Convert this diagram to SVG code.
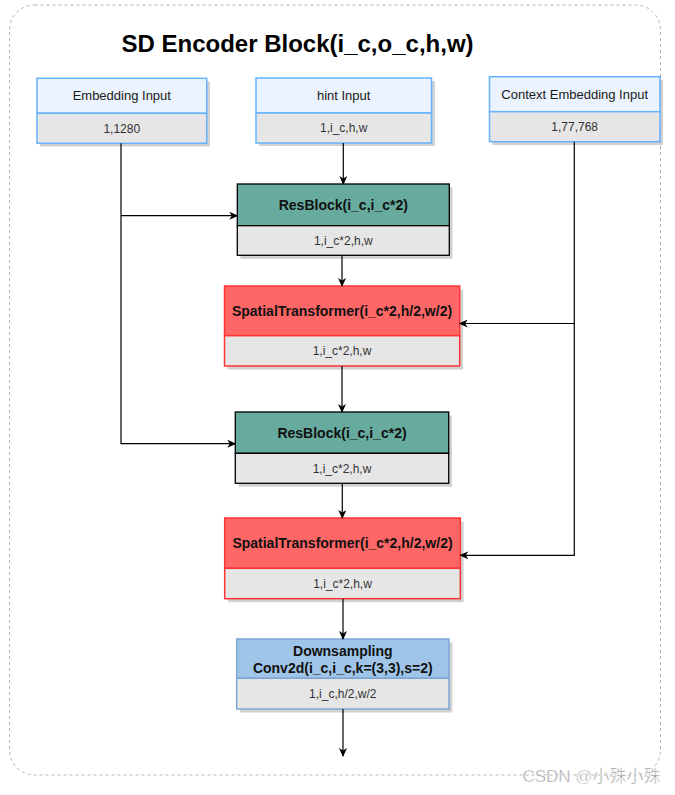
<svg xmlns="http://www.w3.org/2000/svg" width="675" height="795" viewBox="0 0 675 795">
<defs>
<marker id="arr" markerWidth="10" markerHeight="8" refX="8" refY="4" orient="auto" markerUnits="userSpaceOnUse">
<path d="M0,0 L9,4 L0,8 L2.5,4 z" fill="#000"/>
</marker>
</defs>
<style>
text{font-family:"Liberation Sans",Arial,sans-serif;text-anchor:middle}
.hd{font-size:13px;fill:#1a1a1a}
.sub{font-size:12px;fill:#333}
.bt{font-size:14px;font-weight:bold;fill:#111}
.shadow{fill:#b3b3b3;opacity:0.6}
.inhd{fill:#ebf3fe;stroke:#66b2ff;stroke-width:1.5}
.inlo{fill:#e6e6e6;stroke:#66b2ff;stroke-width:1.5}
.rbhd{fill:#67ab9f;stroke:#000;stroke-width:1.3}
.rblo{fill:#e6e6e6;stroke:#000;stroke-width:1.3}
.sthd{fill:#ff6666;stroke:#ff3333;stroke-width:1.5}
.stlo{fill:#e6e6e6;stroke:#ff3333;stroke-width:1.5}
.dshd{fill:#9fc5e8;stroke:#7ea6d6;stroke-width:1.5}
.dslo{fill:#e6e6e6;stroke:#7ea6d6;stroke-width:1.5}
.edge{fill:none;stroke:#000;stroke-width:1.2}
</style>
<rect x="9.5" y="5" width="651" height="770" rx="25" ry="25" fill="#fff" stroke="#b3b3b3" stroke-width="1" stroke-dasharray="3,3"/>
<text x="297.5" y="51.5" style="font-size:24px;font-weight:bold;fill:#000">SD Encoder Block(i_c,o_c,h,w)</text>

<g id="embedding-input">
<rect class="shadow" x="40" y="81.5" width="170" height="65"/>
<rect class="inhd" x="37" y="78.3" width="169.7" height="35"/>
<rect class="inlo" x="37" y="113.3" width="169.7" height="30"/>
<text class="hd" x="121.8" y="100.3">Embedding Input</text>
<text class="sub" x="121.8" y="132.5">1,1280</text>
</g>

<g id="hint-input">
<rect class="shadow" x="259" y="81" width="176" height="65"/>
<rect class="inhd" x="256" y="78" width="175.5" height="35"/>
<rect class="inlo" x="256" y="113" width="175.5" height="30"/>
<text class="hd" x="343.7" y="100">hint Input</text>
<text class="sub" x="343.7" y="132.2">1,i_c,h,w</text>
</g>

<g id="context-input">
<rect class="shadow" x="492.5" y="80" width="170.5" height="65"/>
<rect class="inhd" x="489.5" y="76.7" width="170.5" height="35"/>
<rect class="inlo" x="489.5" y="111.7" width="170.5" height="30"/>
<text class="hd" x="574.7" y="98.7">Context Embedding Input</text>
<text class="sub" x="574.7" y="130.9">1,77,768</text>
</g>

<g id="resblock-1">
<rect class="shadow" x="240.5" y="187.5" width="212" height="71.3"/>
<rect class="rbhd" x="237.3" y="184" width="212" height="41.7"/>
<rect class="rblo" x="237.3" y="225.7" width="212" height="29.6"/>
<text class="bt" x="343.3" y="209.8">ResBlock(i_c,i_c*2)</text>
<text class="sub" x="343.3" y="244.7">1,i_c*2,h,w</text>
</g>

<g id="spatial-transformer-1">
<rect class="shadow" x="227.5" y="289.5" width="235.4" height="80"/>
<rect class="sthd" x="224.5" y="286" width="235.2" height="49.7"/>
<rect class="stlo" x="224.5" y="335.7" width="235.2" height="30.3"/>
<text class="bt" x="342" y="315.8">SpatialTransformer(i_c*2,h/2,w/2)</text>
<text class="sub" x="342" y="355">1,i_c*2,h,w</text>
</g>

<g id="resblock-2">
<rect class="shadow" x="238.5" y="415.5" width="213.4" height="71.3"/>
<rect class="rbhd" x="235.3" y="412" width="213.4" height="41.3"/>
<rect class="rblo" x="235.3" y="453.3" width="213.4" height="30"/>
<text class="bt" x="342" y="437.7">ResBlock(i_c,i_c*2)</text>
<text class="sub" x="342" y="472.5">1,i_c*2,h,w</text>
</g>

<g id="spatial-transformer-2">
<rect class="shadow" x="228" y="521.5" width="235.6" height="80.7"/>
<rect class="sthd" x="224.7" y="518" width="235.6" height="50.3"/>
<rect class="stlo" x="224.7" y="568.3" width="235.6" height="30.4"/>
<text class="bt" x="342.5" y="548">SpatialTransformer(i_c*2,h/2,w/2)</text>
<text class="sub" x="342.5" y="587.7">1,i_c*2,h,w</text>
</g>

<g id="downsampling">
<rect class="shadow" x="240" y="642.5" width="212.3" height="70"/>
<rect class="dshd" x="236.7" y="639" width="212.3" height="39.3"/>
<rect class="dslo" x="236.7" y="678.3" width="212.3" height="30.7"/>
<text class="bt" x="342.8" y="655.6">Downsampling</text>
<text class="bt" x="342.8" y="672.6">Conv2d(i_c,i_c,k=(3,3),s=2)</text>
<text class="sub" x="342.8" y="697.8">1,i_c,h/2,w/2</text>
</g>

<g id="connectors">
<path class="edge" d="M121,143.3 V443.7 H235.3" marker-end="url(#arr)"/>
<path class="edge" d="M121,215.7 H237.3" marker-end="url(#arr)"/>
<path class="edge" d="M343.3,143 V184" marker-end="url(#arr)"/>
<path class="edge" d="M342,255.3 V286" marker-end="url(#arr)"/>
<path class="edge" d="M342,366 V412" marker-end="url(#arr)"/>
<path class="edge" d="M342.3,483.3 V518" marker-end="url(#arr)"/>
<path class="edge" d="M343,598.7 V639" marker-end="url(#arr)"/>
<path class="edge" d="M343,709 V756" marker-end="url(#arr)"/>
<path class="edge" d="M574.3,141.7 V555.3 H460.3" marker-end="url(#arr)"/>
<path class="edge" d="M574.3,323.5 H459.7" marker-end="url(#arr)"/>
</g>

<text x="591.5" y="782" style="font-family:'Liberation Sans','Noto Sans CJK SC',sans-serif;font-size:17px;fill:#999;stroke:#fff;stroke-width:0.5">CSDN @小殊小殊</text>
</svg>
